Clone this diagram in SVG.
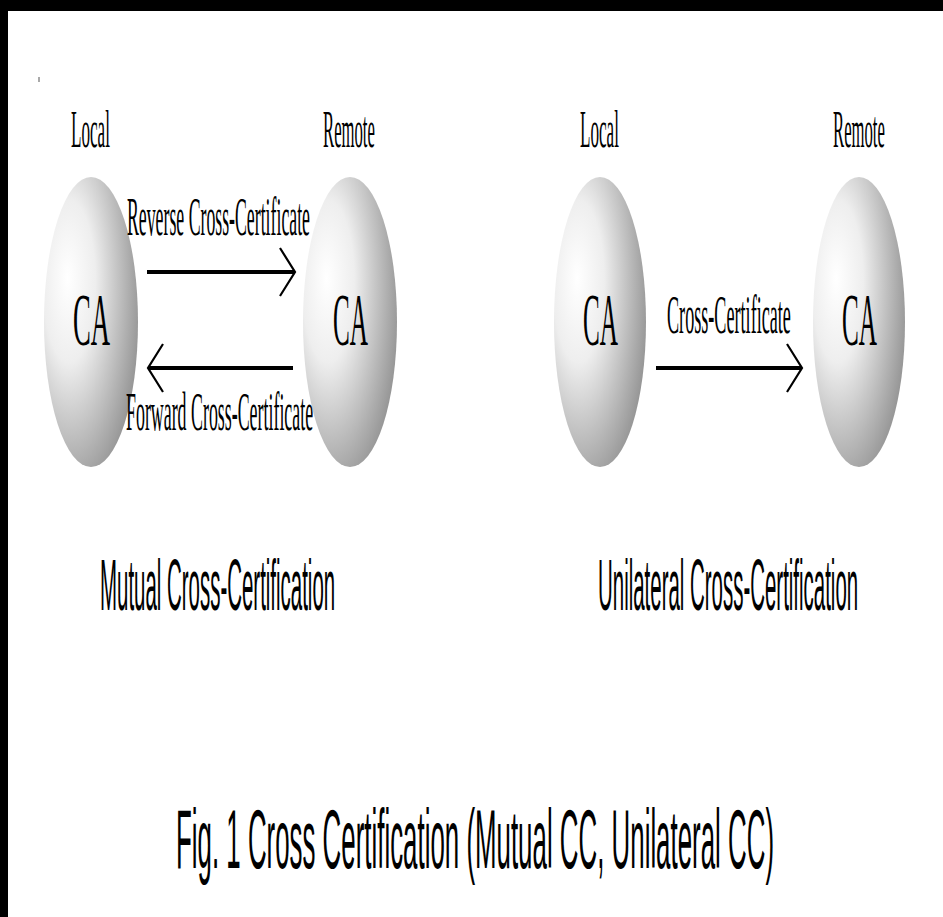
<svg xmlns="http://www.w3.org/2000/svg" width="943" height="917" viewBox="0 0 943 917">
  <defs>
    <radialGradient id="caShade" cx="0.3" cy="0.38" r="0.8" fx="0.25" fy="0.35">
      <stop offset="0" stop-color="#ffffff"/>
      <stop offset="0.35" stop-color="#eeeeee"/>
      <stop offset="1" stop-color="#8a8a8a"/>
    </radialGradient>
    <marker id="chevron" markerUnits="userSpaceOnUse" markerWidth="40" markerHeight="60" viewBox="-20 -30 40 60" refX="0" refY="0" orient="auto">
      <path d="M-15,-24 L0,0 L-15,24" fill="none" stroke="#000" stroke-width="2.2"/>
    </marker>
  </defs>
  <style>
    .bg { fill: #ffffff; }
    .frame { fill: #000000; }
    .ca { fill: url(#caShade); }
    .serif { font-family: "Liberation Serif", "Times New Roman", serif; fill: #000; }
    .sans { font-family: "Liberation Sans", Arial, sans-serif; fill: #000; }
    .lbl { font-size: 52px; }
    .edge { font-size: 54px; }
    .caText { font-size: 74px; }
    .caption { font-size: 72px; }
    .title { font-size: 84px; }
    .link { stroke: #000; stroke-width: 4; fill: none; marker-end: url(#chevron); }
  </style>

  <rect class="bg" x="0" y="0" width="943" height="917"/>
  <!-- dark frame along top and left edges -->
  <rect class="frame" x="0" y="0" width="943" height="11"/>
  <rect class="frame" x="0" y="0" width="8" height="917"/>
  <rect x="38.5" y="77" width="1" height="5" fill="#555"/>

  <!-- mutual cross-certification; narrow type is drawn by squeezing each text horizontally -->
  <g id="mutual-local">
    <text class="serif lbl" transform="translate(71,147) scale(0.329,1)">Local</text>
    <ellipse class="ca" cx="91" cy="322" rx="47" ry="145"/>
    <text class="serif caText" transform="translate(73,345) scale(0.36,1)">CA</text>
  </g>
  <g id="mutual-remote">
    <text class="serif lbl" transform="translate(323,147) scale(0.321,1)">Remote</text>
    <ellipse class="ca" cx="350" cy="322" rx="47" ry="145"/>
    <text class="serif caText" transform="translate(333,345) scale(0.34,1)">CA</text>
  </g>

  <!-- unilateral cross-certification -->
  <g id="unilateral-local">
    <text class="serif lbl" transform="translate(580,147) scale(0.329,1)">Local</text>
    <ellipse class="ca" cx="600" cy="322" rx="46" ry="145"/>
    <text class="serif caText" transform="translate(583,345) scale(0.34,1)">CA</text>
  </g>
  <g id="unilateral-remote">
    <text class="serif lbl" transform="translate(833,147) scale(0.321,1)">Remote</text>
    <ellipse class="ca" cx="859" cy="322" rx="46" ry="145"/>
    <text class="serif caText" transform="translate(842,345) scale(0.34,1)">CA</text>
  </g>

  <g id="connectors">
    <line class="link" x1="147" y1="272" x2="295" y2="272"/>
    <text class="serif edge" transform="translate(127,235) scale(0.329,1)">Reverse Cross-Certificate</text>
    <line class="link" x1="293" y1="368" x2="148" y2="368"/>
    <text class="serif edge" transform="translate(126,430) scale(0.331,1)">Forward Cross-Certificate</text>
    <line class="link" x1="656" y1="368" x2="802" y2="368"/>
    <text class="serif edge" transform="translate(667,333) scale(0.336,1)">Cross-Certificate</text>
  </g>

  <g id="captions">
    <text class="sans caption" transform="translate(100,610) scale(0.284,1)">Mutual Cross-Certification</text>
    <text class="sans caption" transform="translate(598,610) scale(0.284,1)">Unilateral Cross-Certification</text>
    <text class="sans title" transform="translate(176,868) scale(0.308,1)">Fig. 1 Cross Certification (Mutual CC, Unilateral CC)</text>
  </g>
</svg>
